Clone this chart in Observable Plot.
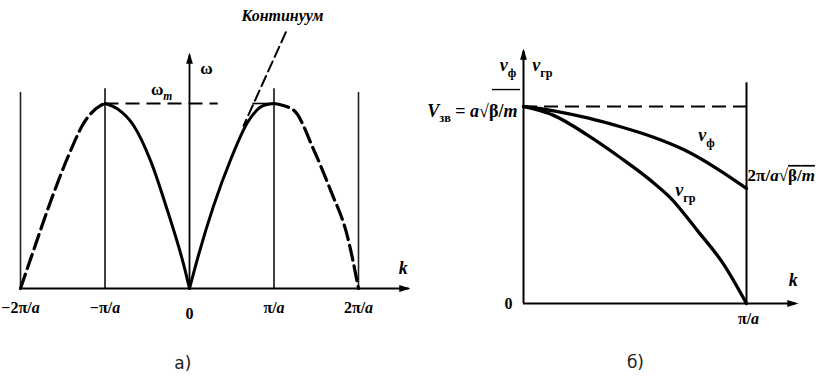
<!DOCTYPE html>
<html>
<head>
<meta charset="utf-8">
<script src="https://cdn.jsdelivr.net/npm/d3@7"></script>
<script src="https://cdn.jsdelivr.net/npm/@observablehq/plot@0.6"></script>
<style>
  body { margin: 0; background: #fff; }
  #fig { position: relative; width: 820px; height: 376px; }
  #fig svg { position: absolute; top: 0; }
</style>
</head>
<body>
<div id="fig"></div>
<script>
// ---------- Panel а: dispersion ω(k) of a monatomic chain (k in π/a, ω in ω_m) ----------
const kLeftDashed  = [-2, -1.85, -1.64, -1.44, -1.25, -1.05, -1];
const wLeftDashed  = [0, 0.20, 0.475, 0.71, 0.895, 0.99, 1];
const kLeftSolid   = [-1, -0.85, -0.66, -0.46, -0.26, -0.07, 0];
const wLeftSolid   = [1, 0.97, 0.88, 0.69, 0.42, 0.13, 0];
const kRightSolid  = [0, 0.10, 0.28, 0.49, 0.69, 0.88, 1];
const wRightSolid  = [0, 0.17, 0.44, 0.70, 0.90, 0.99, 1];
const kRightDashed = [1, 1.23, 1.47, 1.67, 1.87, 2];
const wRightDashed = [1, 0.965, 0.75, 0.53, 0.28, 0];
const continuumK = [1.14, 0.64];
const continuumW = [1.385, 0.88];
const kTicksA = [-2, -1, 0, 1, 2];
const kTickLabelsA = ["−2π/*a*", "−π/*a*", "0", "π/*a*", "2π/*a*"];

// ---------- Panel б: phase and group velocity (k in π/a, v in V_зв) ----------
const kPhase = [0, 0.135, 0.287, 0.435, 0.58, 0.72, 0.86, 1];
const vPhase = [1, 0.978, 0.942, 0.897, 0.845, 0.78, 0.69, 0.584];
const kGroup = [0, 0.135, 0.287, 0.435, 0.57, 0.66, 0.78, 0.897, 1];
const vGroup = [1, 0.955, 0.855, 0.74, 0.625, 0.535, 0.37, 0.20, 0];
const kTicksB = [0, 1];
const kTickLabelsB = ["0", "π/*a*"];

const zip = (xs, ys) => xs.map((x, i) => ({x, y: ys[i]}));

// filled arrowhead with its tip at the origin, pointing up
const arrowHead = {
  draw(ctx, size) {
    const r = Math.sqrt(size / Math.PI);
    ctx.moveTo(0, 0);
    ctx.lineTo(-0.85 * r, 2.8 * r);
    ctx.lineTo(0.85 * r, 2.8 * r);
    ctx.closePath();
  }
};
const arrow = (x, y, rotate) =>
  Plot.dot([{x, y}], {x: "x", y: "y", symbol: arrowHead, r: 4, fill: "black", stroke: "none", rotate});

const label = (items, opts) =>
  Plot.text(items, {x: "x", y: "y", text: "t", fontFamily: "Liberation Serif", fontWeight: "bold", fontSize: 16, fill: "black", ...opts});
const caption = (items) =>
  Plot.text(items, {x: "x", y: "y", text: "t", fontFamily: "DejaVu Sans", fontSize: 17, fill: "#222"});

const curve = "monotone-x";

// ----- panel а -----
const plotA = Plot.plot({
  width: 420, height: 376,
  marginLeft: 20, marginRight: 62, marginTop: 103, marginBottom: 88,
  x: {domain: [-2, 2], axis: null},
  y: {domain: [0, 1], axis: null},
  style: {background: "transparent", overflow: "visible"},
  marks: [
    // zone boundaries
    Plot.ruleX([-1, 1], {y1: 0, y2: 1.08, stroke: "#111", strokeWidth: 1.6}),
    Plot.ruleX([-2, 2], {y1: 0, y2: 1.06, stroke: "#222", strokeWidth: 1.6}),
    // axes
    Plot.ruleY([0], {x1: -2, x2: 2.6, stroke: "black", strokeWidth: 2}),
    Plot.ruleX([0], {y1: 0, y2: 1.26, stroke: "black", strokeWidth: 1.8}),
    arrow(2.615, 0, 90),
    arrow(0, 1.276, 0),
    // ω_m level
    Plot.ruleY([1], {x1: -1, x2: 0.34, stroke: "black", strokeWidth: 2.2, strokeDasharray: "14,7"}),
    Plot.ruleY([1], {x1: 0.75, x2: 1, stroke: "black", strokeWidth: 1.6}),
    // dispersion branches
    Plot.line(zip(kLeftDashed, wLeftDashed), {x: "x", y: "y", curve, strokeWidth: 3.2, strokeDasharray: "15,6"}),
    Plot.line(zip(kLeftSolid, wLeftSolid), {x: "x", y: "y", curve, strokeWidth: 3}),
    Plot.line(zip(kRightSolid, wRightSolid), {x: "x", y: "y", curve, strokeWidth: 3}),
    Plot.line(zip(kRightDashed, wRightDashed), {x: "x", y: "y", curve, strokeWidth: 3.2, strokeDasharray: "15,6"}),
    // continuum pointer
    Plot.line(zip(continuumK, continuumW), {x: "x", y: "y", strokeWidth: 2, strokeDasharray: "11,5"}),
    // tick labels
    label(kTicksA.map((x, i) => ({x, y: 0, t: kTickLabelsA[i]})).filter(d => d.x !== 0), {dy: 19}),
    label(kTicksA.map((x, i) => ({x, y: 0, t: kTickLabelsA[i]})).filter(d => d.x === 0), {dy: 25}),
    // annotations
    label([{x: 1.1, y: 1.476, t: "*Континуум*"}], {fontSize: 16}),
    label([{x: 0.2, y: 1.19, t: "ω"}], {fontSize: 17}),
    label([{x: -0.33, y: 1.075, t: "ω_{*m*}"}], {fontSize: 17}),
    label([{x: 2.53, y: 0.11, t: "*k*"}], {fontSize: 18}),
    caption([{x: -0.08, y: -0.405, t: "а)"}])
  ]
});

// ----- panel б -----
const plotB = Plot.plot({
  width: 400, height: 376,
  marginLeft: 103, marginRight: 74, marginTop: 106, marginBottom: 73,
  x: {domain: [0, 1], axis: null},
  y: {domain: [0, 1], axis: null},
  style: {background: "transparent", overflow: "visible"},
  marks: [
    Plot.ruleX([1], {y1: 0, y2: 1.12, stroke: "black", strokeWidth: 2}),
    Plot.ruleY([0], {x1: 0, x2: 1.22, stroke: "black", strokeWidth: 2}),
    Plot.ruleX([0], {y1: 0, y2: 1.28, stroke: "black", strokeWidth: 2}),
    arrow(1.233, 0, 90),
    arrow(0, 1.294, 0),
    Plot.ruleY([1.086], {x1: -0.139, x2: -0.013, stroke: "black", strokeWidth: 1.4}),
    // sound velocity level
    Plot.ruleY([1], {x1: 0, x2: 1, stroke: "black", strokeWidth: 2.2, strokeDasharray: "14,7"}),
    // velocities
    Plot.line(zip(kPhase, vPhase), {x: "x", y: "y", curve, strokeWidth: 3.3}),
    Plot.line(zip(kGroup, vGroup), {x: "x", y: "y", curve, strokeWidth: 3.3}),
    // tick labels
    label(kTicksB.map((x, i) => ({x, y: 0, t: kTickLabelsB[i]})).filter(d => d.x === 0), {dx: -15}),
    label(kTicksB.map((x, i) => ({x, y: 0, t: kTickLabelsB[i]})).filter(d => d.x !== 0), {dy: 15, dx: 2}),
    // annotations
    label([{x: -0.07, y: 1.208, t: "*v*_{ф}"}], {fontSize: 18}),
    label([{x: 0.085, y: 1.208, t: "*v*_{гр}"}], {fontSize: 18}),
    label([{x: -0.027, y: 0.978, t: "*V*_{зв} = *a*√β/*m*"}], {fontSize: 18, textAnchor: "end"}),
    label([{x: 0.82, y: 0.853, t: "*v*_{ф}"}], {fontSize: 18}),
    label([{x: 0.726, y: 0.574, t: "*v*_{гр}"}], {fontSize: 18}),
    label([{x: 1.005, y: 0.65, t: "2π/*a*√~{β/*m*}"}], {fontSize: 17, textAnchor: "start"}),
    label([{x: 1.21, y: 0.117, t: "*k*"}], {fontSize: 18}),
    caption([{x: 0.502, y: -0.30, t: "б)"}])
  ]
});

const fig = document.getElementById("fig");
plotA.style.left = "0px";
plotB.style.left = "420px";
fig.append(plotA, plotB);

// Turn the light markup in labels into tspans: *italic*, _{subscript}, ~{overline}
function parseRich(str, st, out) {
  const re = /\*([^*]+)\*|_\{([^}]*)\}|~\{([^}]*)\}|([^*_~]+)/g;
  let m;
  while ((m = re.exec(str))) {
    if (m[1] != null) out.push({text: m[1], ...st, italic: true});
    else if (m[2] != null) parseRich(m[2], {...st, sub: true}, out);
    else if (m[3] != null) parseRich(m[3], {...st, over: true}, out);
    else out.push({text: m[4], ...st});
  }
  return out;
}
d3.select(fig).selectAll("text").each(function () {
  const s = this.textContent;
  if (!/[*_~]/.test(s)) return;
  const fs = parseFloat(getComputedStyle(this).fontSize) || 16;
  const segs = parseRich(s, {}, []);
  this.textContent = "";
  let cur = 0;
  for (const seg of segs) {
    const target = seg.sub ? fs * 0.3 : 0;
    const t = d3.select(this).append("tspan").text(seg.text);
    if (target !== cur) t.attr("dy", target - cur);
    cur = target;
    if (seg.sub) t.attr("font-size", fs * 0.68);
    if (seg.italic) t.attr("font-style", "italic");
    if (seg.over) t.attr("text-decoration", "overline");
  }
});
</script>
</body>
</html>
